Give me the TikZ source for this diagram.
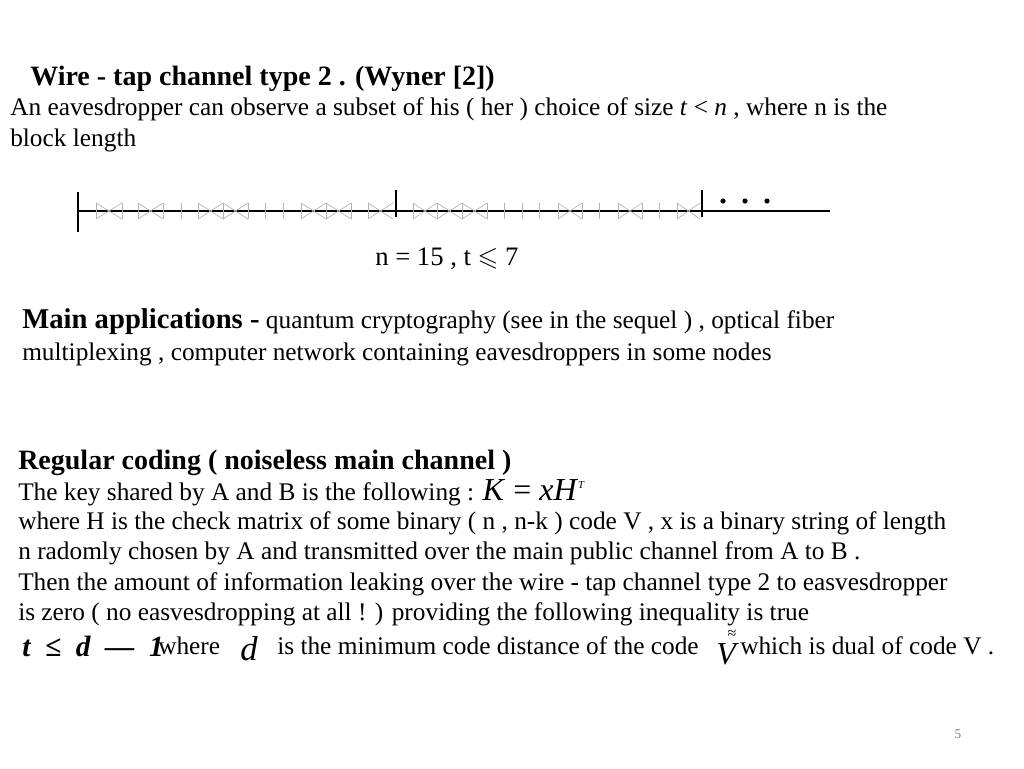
\documentclass[tikz,border=0pt]{standalone}
\usepackage{amssymb}
\usepackage{fontspec}
\setmainfont{Liberation Serif}
\begin{document}
\begin{tikzpicture}[x=0.75pt,y=-0.75pt,
  t/.style={anchor=base west,inner sep=0pt,font=\fontsize{19}{22}\selectfont},
  b/.style={t,font=\fontsize{21}{22}\selectfont\bfseries},
  sm/.style={draw=gray!60,line width=0.5pt},
  big/.style={draw=black,line width=1.3pt}]
\useasboundingbox[fill=white] (0,0) rectangle (1024,768);
\node[b] (title) at (30,85) {Wire - tap channel type 2 . (Wyner [2])};
\node[t] (l1) at (10,115) {An eavesdropper can observe a subset of his ( her ) choice of size \textit{t} < \textit{n} , where n is the};
\node[t] (l2) at (10,146) {block length};
% line
\draw[line width=1pt] (78,211) -- (830,211);
\draw[big] (78,192) -- (78,232);
\draw[big] (396,190) -- (396,217);
\draw[big] (702,190) -- (702,217);
\foreach \x in {96,122,138,163,181,198,223,248,265,283,301,326,351,368,413,437,462,487,504,522,539,558,582,599,618,642,659,677}
  \draw[sm] (\x,203) -- (\x,219);
\foreach \a/\c in {96/122,138/163,198/223,223/248,301/326,326/351,368/393,413/437,437/462,462/487,558/582,618/642,677/700}
  {\draw[sm] (\a,203) -- (\c,219); \draw[sm] (\a,219) -- (\c,203);}
\foreach \x in {723,745,767} \fill (\x,201) circle (2.6);
\node[t,font=\fontsize{20}{22}\selectfont] (nt) at (375,265) {n = 15 , t $\leqslant$ 7};
\node[t] (ma) at (22,328) {{\fontsize{21.5}{22}\selectfont\bfseries Main applications -} quantum cryptography (see in the sequel ) , optical fiber};
\node[t] (ma2) at (22,360) {multiplexing , computer network containing eavesdroppers in some nodes};
\node[b] (rc) at (18,469) {Regular coding ( noiseless main channel )};
\node[t] (k) at (18,500) {The key shared by A and B is the following : {\fontsize{24}{24}\selectfont\textit{K} = \textit{xH}}\raisebox{9pt}{\fontsize{8}{8}\selectfont\textit{T}}};
\node[t] (w1) at (18,529) {where H is the check matrix of some binary ( n , n-k ) code V , x is a binary string of length};
\node[t] (w2) at (18,559) {n radomly chosen by A and transmitted over the main public channel from A to B .};
\node[t] (w3) at (18,590) {Then the amount of information leaking over the wire - tap channel type 2 to easvesdropper};
\node[t] (w4) at (18,620) {is zero ( no easvesdropping at all ! ) providing the following inequality is true};
\node[t,font=\fontsize{22}{22}\selectfont\bfseries\itshape] (ineq) at (22,656) {t \ ≤ \ d \ — \ 1};
\node[t] (wh) at (158,654) {where};
\node[t,font=\fontsize{26}{26}\selectfont\itshape] (d) at (240,660) {d};
\node[t] (mc) at (277,654) {is the minimum code distance of the code};
\node[t,font=\fontsize{24}{24}\selectfont\itshape] (v) at (716,664) {V};
\node[anchor=base,inner sep=0pt,font=\fontsize{12}{12}\selectfont] (vt) at (732,638) {≈};
\node[t] (wd) at (740,654) {which is dual of code V .};
\node[anchor=base,inner sep=0pt,text=gray,font=\fontsize{10}{10}\selectfont] (pg) at (958,738) {5};
\end{tikzpicture}
\end{document}
